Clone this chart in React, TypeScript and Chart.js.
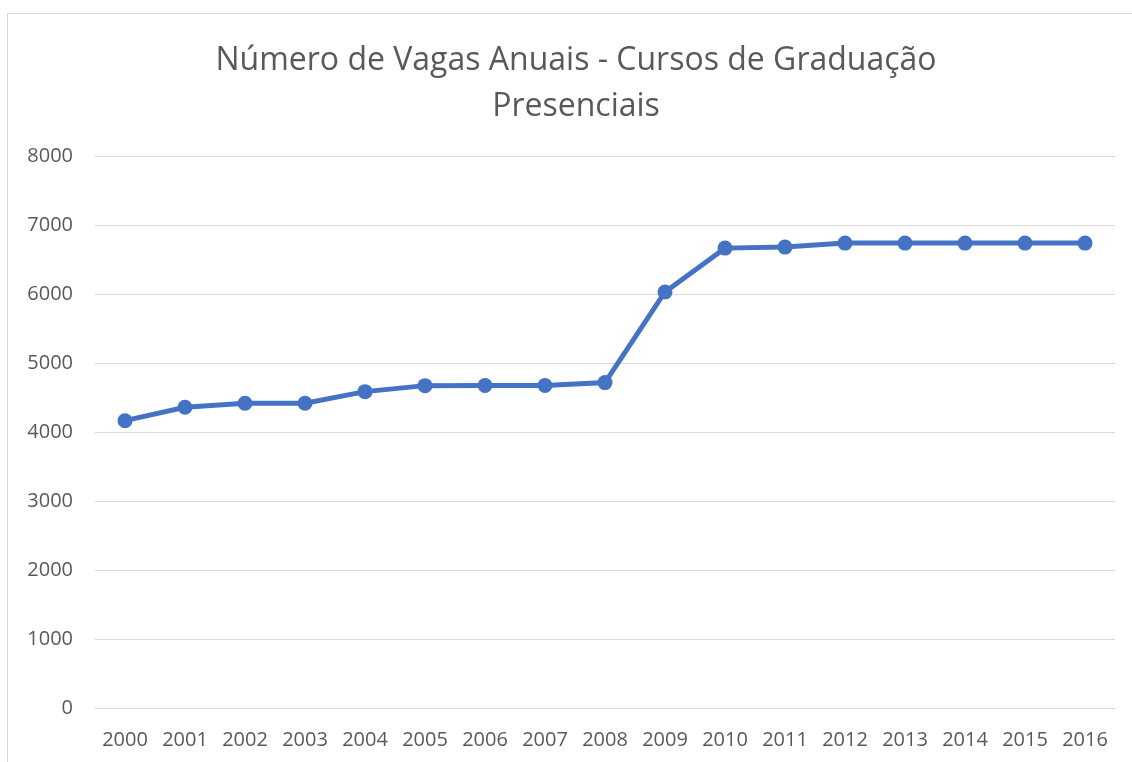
import React, { useEffect, useRef } from "react";
import { Chart, registerables } from "chart.js";

Chart.register(...registerables);

const years = ["2000", "2001", "2002", "2003", "2004", "2005", "2006", "2007", "2008", "2009", "2010", "2011", "2012", "2013", "2014", "2015", "2016"];
const vagas = [4164, 4358, 4417, 4417, 4585, 4672, 4674, 4674, 4716, 6030, 6665, 6680, 6738, 6738, 6738, 6738, 6738];
const titleLines = ["Número de Vagas Anuais - Cursos de Graduação", "Presenciais"];

const shiftTitle = {
  id: "shiftTitle",
  afterLayout(chart: any) {
    const t = chart.titleBlock;
    if (t) t.left += 11;
  },
};

export default function App() {
  const ref = useRef<HTMLCanvasElement | null>(null);
  useEffect(() => {
    if (!ref.current) return;
    const chart = new Chart(ref.current, {
      type: "line",
      data: {
        labels: years,
        datasets: [
          {
            label: "Vagas",
            data: vagas,
            borderColor: "#4472C4",
            backgroundColor: "#4472C4",
            borderWidth: 5,
            pointRadius: 7.5,
            pointHoverRadius: 7.5,
            pointBackgroundColor: "#4472C4",
            pointBorderWidth: 0,
            tension: 0,
          },
        ],
      },
      plugins: [shiftTitle],
      options: {
        animation: false,
        responsive: false,
        maintainAspectRatio: false,
        layout: { padding: { left: 26, right: 17, top: 0, bottom: -10 } },
        plugins: {
          legend: { display: false },
          tooltip: { enabled: false },
          title: {
            display: true,
            text: titleLines,
            color: "#595959",
            font: { family: "'Open Sans', sans-serif", size: 32, weight: "normal", lineHeight: 1.4375 },
            padding: { top: 38, bottom: 26 },
          },
        },
        scales: {
          x: {
            offset: true,
            grid: { display: false, drawTicks: false },
            border: { display: false },
            ticks: {
              color: "#595959",
              padding: 20,
              maxRotation: 0,
              autoSkip: false,
              font: { family: "'Open Sans', sans-serif", size: 20 },
            },
          },
          y: {
            min: 0,
            max: 8000,
            grid: { color: "#d9d9d9", lineWidth: 1, drawTicks: false },
            border: { display: false },
            afterFit: (scale: any) => {
              scale.width = 69;
            },
            ticks: {
              stepSize: 1000,
              color: "#595959",
              padding: 22,
              font: { family: "'Open Sans', sans-serif", size: 20 },
              callback: (v: any) => String(v),
            },
          },
        },
      },
    });
    return () => chart.destroy();
  }, []);
  return (
    <div style={{ position: "absolute", left: 0, top: 0, width: 1132, height: 762, background: "#ffffff", overflow: "hidden" }}>
      <div
        style={{
          position: "absolute",
          left: 7,
          top: 13,
          width: 1200,
          height: 800,
          borderLeft: "1px solid #d9d9d9",
          borderTop: "1px solid #d9d9d9",
        }}
      />
      <canvas ref={ref} width={1132} height={762} style={{ position: "absolute", left: 0, top: 0 }} />
    </div>
  );
}
